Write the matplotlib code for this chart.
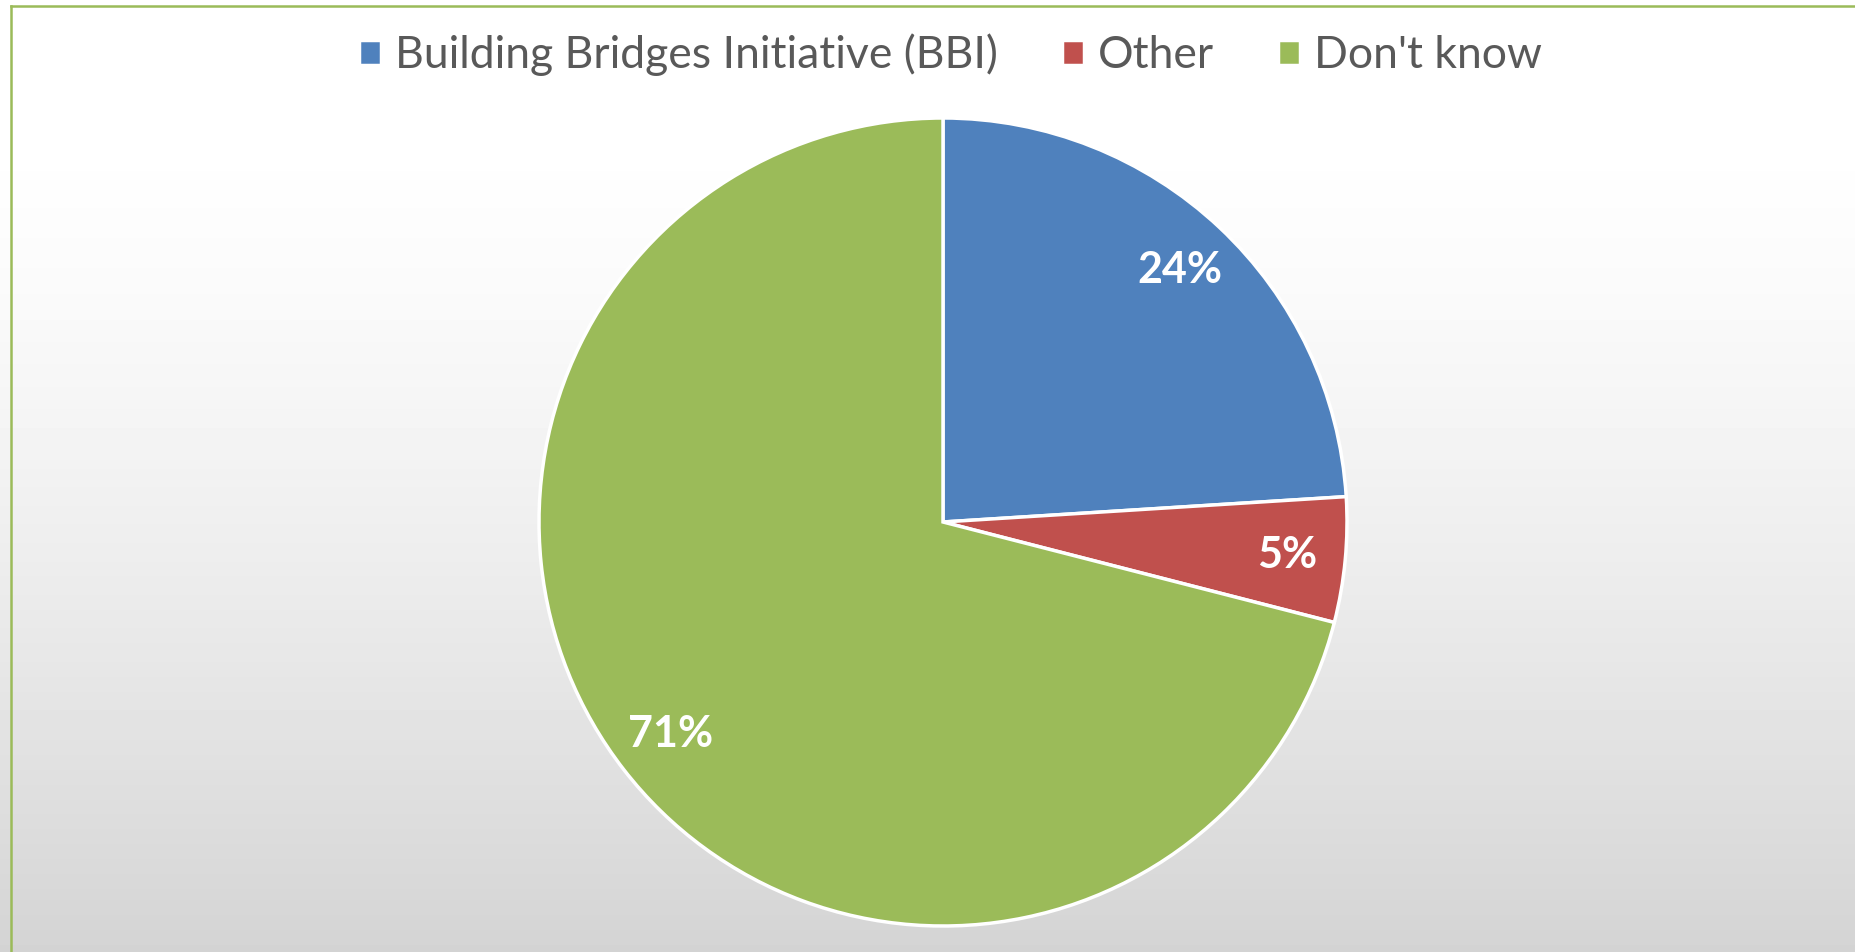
import numpy as np
import matplotlib
matplotlib.use("Agg")
import matplotlib.pyplot as plt
from matplotlib.lines import Line2D

# data
labels = ["Building Bridges Initiative (BBI)", "Other", "Don't know"]
shares = [24, 5, 71]
colors = ["#4f81bd", "#c0504d", "#9bbb59"]

W, H = 1856, 952
fig = plt.figure(figsize=(W / 100, H / 100), dpi=100)

# background gradient, white at top fading to light gray
bg = fig.add_axes([0, 0, 1, 1], zorder=-10)
t = np.linspace(0, 1, 256)
shade = 1 - 0.17 * np.clip((t - 0.12) / 0.88, 0, 1) ** 1.4
bg.imshow(shade[:, None], cmap="gray", vmin=0, vmax=1, aspect="auto",
          extent=[0, 1, 0, 1])
bg.set_axis_off()

# thin green frame on left and top
fig.add_artist(Line2D([11 / W, 11 / W], [0, 1 - 6 / H], color="#9bbb59", lw=1.8,
                      transform=fig.transFigure))
fig.add_artist(Line2D([11 / W, 1], [1 - 6 / H, 1 - 6 / H], color="#9bbb59", lw=1.8,
                      transform=fig.transFigure))

# pie centred at (943, 522) px with radius 404 px
cx, cy, r = 943, 522, 404
ax = fig.add_axes([(cx - r) / W, (H - cy - r) / H, 2 * r / W, 2 * r / H])
wedges, texts, autotexts = ax.pie(
    shares, colors=colors, startangle=90, counterclock=False,
    autopct="%1.0f%%", pctdistance=0.855,
    wedgeprops=dict(edgecolor="white", linewidth=2.5),
    textprops=dict(color="white", fontsize=31, fontweight="bold", family="Lato"))
ax.set_xlim(-1.0, 1.0)
ax.set_ylim(-1.0, 1.0)
ax.set_aspect("equal")
ax.set_axis_off()

leg = fig.legend(wedges, labels, loc="center", bbox_to_anchor=(0.512, 1 - 55 / H),
                 ncol=3, frameon=False, handlelength=0.5, handleheight=0.5,
                 handletextpad=0.3, columnspacing=1.45,
                 prop=dict(family="Lato", size=32))
for txt in leg.get_texts():
    txt.set_color("#595959")

fig.savefig("out.png", dpi=100)
